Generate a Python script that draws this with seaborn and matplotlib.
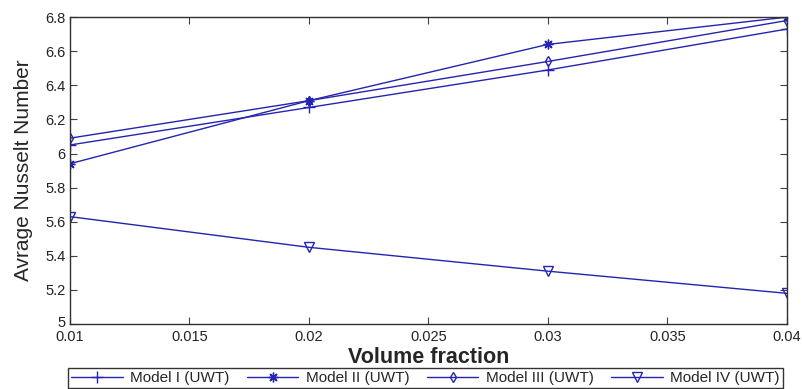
import pandas as pd
import numpy as np
import matplotlib
matplotlib.use('Agg')
import matplotlib.pyplot as plt
import matplotlib.transforms as mtransforms
import seaborn as sns

# data
volume_fraction = [0.01, 0.02, 0.03, 0.04]
model_1 = [6.05, 6.27, 6.49, 6.73]
model_2 = [5.94, 6.31, 6.64, 6.80]
model_3 = [6.09, 6.31, 6.54, 6.78]
model_4 = [5.63, 5.45, 5.31, 5.18]
labels = ['Model I (UWT)', 'Model II (UWT)', 'Model III (UWT)', 'Model IV (UWT)']
markers = ['+', (8, 2, 0), 'd', 'v']

sns.set_style('white')
plt.rcParams['font.family'] = ['Liberation Sans', 'DejaVu Sans']

fig, ax = plt.subplots(figsize=(8.03, 3.89), dpi=100)
fig.subplots_adjust(left=0.087, right=0.980, top=0.956, bottom=0.167)

color = '#2424b0'
sizes = [8, 7, 5.5, 7]
for vals, lab, mk, ms in zip([model_1, model_2, model_3, model_4], labels, markers, sizes):
    df = pd.DataFrame({'x': volume_fraction, 'y': vals})
    sns.lineplot(data=df, x='x', y='y', ax=ax, color=color, lw=1.0,
                 marker=mk, markersize=ms,
                 markerfacecolor='none' if mk in ('d', 'v') else color,
                 markeredgecolor=color, markeredgewidth=1.0, label=lab)

ax.set_xlim(0.01, 0.04)
ax.set_ylim(5, 6.8)
ax.set_xticks([0.01, 0.015, 0.02, 0.025, 0.03, 0.035, 0.04])
ax.set_xticklabels(['0.01', '0.015', '0.02', '0.025', '0.03', '0.035', '0.04'])
ax.set_yticks(np.arange(5, 6.81, 0.2))
ax.set_yticklabels(['5', '5.2', '5.4', '5.6', '5.8', '6', '6.2', '6.4', '6.6', '6.8'])
ax.tick_params(direction='in', length=5, labelsize=10.5, top=True, right=True,
               bottom=True, left=True, color='#404040', labelcolor='#222222')
ax.tick_params(axis='x', pad=4.5)
ax.tick_params(axis='y', pad=3)
for s in ax.spines.values():
    s.set_color('#303030')
    s.set_linewidth(1.0)

# lift the "5" label a little so it sits above "0.01", like the original
lab5 = ax.get_yticklabels()[0]
lab5.set_transform(lab5.get_transform() + mtransforms.ScaledTranslation(0, 3 / 100, fig.dpi_scale_trans))

ax.set_xlabel('Volume fraction', fontsize=15.5, fontweight='bold', labelpad=2)
ax.set_ylabel('Avrage Nusselt Number', fontsize=15, labelpad=9)

leg = ax.legend(loc='upper left', bbox_to_anchor=(-0.003, -0.143), ncol=4,
                frameon=True, fancybox=False, fontsize=11, handlelength=3.4,
                columnspacing=1.1, borderpad=0.2, handletextpad=0.5,
                borderaxespad=0)
leg.get_frame().set_edgecolor('black')
leg.get_frame().set_linewidth(1.0)

plt.savefig('out.png', dpi=100)
